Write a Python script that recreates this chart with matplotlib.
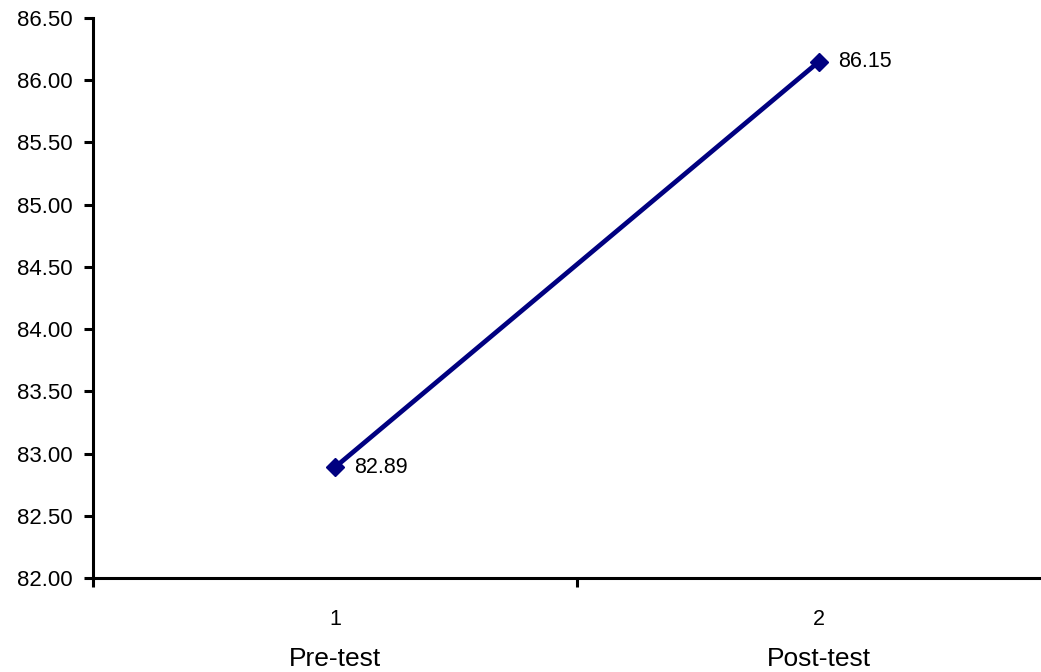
import matplotlib
matplotlib.use("Agg")
import matplotlib.pyplot as plt

# data
positions = [1, 2]
scores = [82.89, 86.15]
tick_labels = ["1", "2"]
test_names = ["Pre-test", "Post-test"]
y_ticks = [82.0, 82.5, 83.0, 83.5, 84.0, 84.5, 85.0, 85.5, 86.0, 86.5]

plt.rcParams['font.family'] = ['Liberation Sans', 'DejaVu Sans']

fig = plt.figure(figsize=(10.41, 6.72), dpi=100)
ax = fig.add_axes([93 / 1041, 94 / 672, 968 / 1041, 560 / 672])

ax.plot(positions, scores, color="#000080", linewidth=3.4, marker="D",
        markersize=9, clip_on=False)
for x, y in zip(positions, scores):
    ax.annotate(f"{y:.2f}", (x, y), xytext=(14, 0), textcoords="offset points",
                va="center", ha="left", fontsize=15.5)

ax.set_xlim(0.5, 2.5)
ax.set_ylim(82.0, 86.5)
ax.set_yticks(y_ticks)
ax.set_yticklabels([f"{v:.2f}" for v in y_ticks], fontsize=16)
ax.set_xticks([0.5, 1.5, 2.5])
ax.set_xticklabels([])
ax.tick_params(axis="both", direction="out", length=6.5, width=2.2, color="black")
ax.tick_params(axis="y", pad=8)

for x, lab, name in zip(positions, tick_labels, test_names):
    ax.annotate(lab, (x, 0), xycoords=("data", "axes fraction"), xytext=(0, -30),
                textcoords="offset points", ha="center", va="center", fontsize=15.5)
    ax.annotate(name, (x, 0), xycoords=("data", "axes fraction"), xytext=(0, -58),
                textcoords="offset points", ha="center", va="center", fontsize=19)

for side in ["top", "right"]:
    ax.spines[side].set_visible(False)
for side in ["left", "bottom"]:
    ax.spines[side].set_linewidth(2.2)

fig.savefig("out.png", dpi=100)
